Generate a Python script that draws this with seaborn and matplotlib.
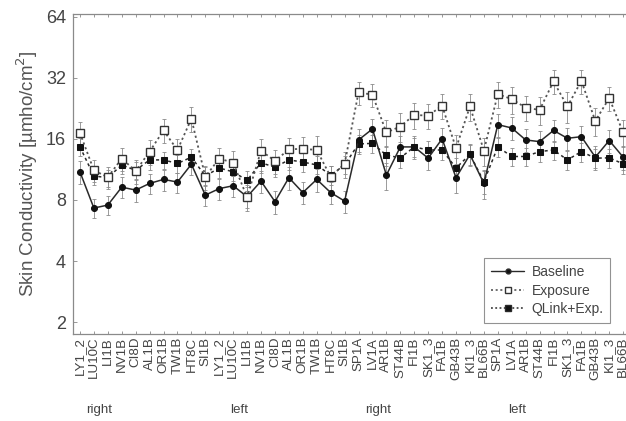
import numpy as np
import pandas as pd
import matplotlib
matplotlib.use("Agg")
import matplotlib.pyplot as plt
import seaborn as sns
from matplotlib.lines import Line2D
from matplotlib.ticker import NullLocator
import matplotlib.transforms as mtransforms

sites_a = ["LY1_2", "LU10C", "LI1B", "NV1B", "CI8D", "AL1B", "OR1B", "TW1B", "HT8C", "SI1B"]
sites_b = ["SP1A", "LV1A", "AR1B", "ST44B", "FI1B", "SK1_3", "FA1B", "GB43B", "KI1_3", "BL66B"]
labels = sites_a + sites_a + sites_b + sites_b
group_names = ["right", "left", "right", "left"]

baseline = [11.0, 7.3, 7.55, 9.25, 8.95, 9.65, 10.1, 9.8, 12.0, 8.45,
            9.1, 9.4, 8.3, 9.9, 7.85, 10.3, 8.7, 10.1, 8.7, 7.9,
            15.8, 17.9, 10.6, 14.6, 14.6, 12.85, 16.0, 10.3, 13.4, 9.65,
            18.8, 18.1, 15.8, 15.5, 17.6, 16.1, 16.4, 13.0, 15.7, 13.0]
exposure = [17.1, 11.2, 10.35, 12.8, 11.1, 13.85, 17.6, 14.1, 20.1, 10.4,
            12.8, 12.2, 8.25, 14.0, 12.45, 14.2, 14.3, 14.1, 10.4, 12.05,
            27.1, 26.4, 17.2, 18.4, 21.0, 20.8, 23.3, 14.4, 23.1, 14.0,
            26.6, 25.1, 22.8, 22.2, 30.7, 23.1, 30.9, 19.6, 25.4, 17.2]
qlink = [14.6, 10.5, 10.3, 11.9, 11.2, 12.6, 12.6, 12.1, 13.0, 10.5,
         11.5, 11.0, 10.0, 12.2, 11.6, 12.6, 12.3, 11.9, 10.6, 11.9,
         15.1, 15.2, 13.3, 12.9, 14.6, 14.1, 14.1, 11.5, 13.4, 9.85,
         14.6, 13.1, 13.1, 13.85, 14.1, 12.6, 13.85, 12.85, 12.9, 12.05]

baseline_err = [1.4, 0.8, 0.8, 1.1, 1.1, 1.1, 1.2, 1.1, 1.4, 1.0,
                1.1, 1.1, 1.0, 1.2, 1.0, 1.3, 1.1, 1.3, 1.1, 1.0,
                2.0, 2.2, 1.6, 1.9, 1.9, 1.6, 2.0, 1.6, 1.7, 1.6,
                2.4, 2.3, 2.0, 2.0, 2.2, 2.0, 2.1, 1.7, 2.0, 1.7]
exposure_err = [2.2, 1.4, 1.3, 1.7, 1.5, 1.9, 2.4, 1.8, 2.8, 1.4,
                1.7, 1.7, 1.2, 1.9, 1.7, 2.0, 2.0, 2.4, 1.4, 1.8,
                3.5, 3.4, 2.6, 3.0, 3.1, 2.9, 3.3, 2.4, 3.6, 2.2,
                3.8, 3.8, 3.2, 3.4, 4.1, 4.0, 4.2, 3.0, 3.4, 2.6]
qlink_err = [1.5, 1.0, 1.0, 1.2, 1.1, 1.3, 1.2, 1.2, 1.3, 1.1,
             1.2, 1.1, 1.1, 1.3, 1.2, 1.3, 1.3, 1.2, 1.1, 1.2,
             1.6, 1.6, 1.5, 1.4, 1.6, 1.5, 1.5, 1.4, 1.5, 1.3,
             1.6, 1.4, 1.4, 1.5, 1.5, 1.4, 1.5, 1.4, 1.4, 1.3]

yticks = [2, 4, 8, 16, 32, 64]

sns.set_style("white")
plt.rcParams["font.family"] = ["Liberation Sans", "DejaVu Sans"]

fig = plt.figure(figsize=(6.26, 4.21), dpi=100)
ax = fig.add_axes([0.1166, 0.2067, 0.89, 0.7603])

x = np.arange(len(labels))
df = pd.DataFrame({
    "x": np.concatenate([x, x, x]),
    "value": baseline + exposure + qlink,
    "series": ["Baseline"] * len(x) + ["Exposure"] * len(x) + ["QLink+Exp."] * len(x),
})

line_col = "#2a2a2a"
err_col = "#8a8a8a"

# error bars
for vals, errs in [(qlink, qlink_err), (baseline, baseline_err), (exposure, exposure_err)]:
    ax.errorbar(x, vals, yerr=errs, fmt="none", ecolor=err_col, elinewidth=0.6,
                capsize=1.6, capthick=0.6, zorder=1)

sns.lineplot(data=df[df.series == "QLink+Exp."], x="x", y="value", ax=ax,
             color=line_col, linestyle=(0, (2, 2)), linewidth=1.1, marker="s",
             markersize=4.8, markerfacecolor="#111", markeredgecolor="#111",
             zorder=3, legend=False)
sns.lineplot(data=df[df.series == "Baseline"], x="x", y="value", ax=ax,
             color=line_col, linestyle="-", linewidth=1.1, marker="o",
             markersize=4.3, markerfacecolor="#111", markeredgecolor="#111",
             zorder=4, legend=False)
sns.lineplot(data=df[df.series == "Exposure"], x="x", y="value", ax=ax,
             color="#555", linestyle=(0, (1.2, 1.6)), linewidth=1.3, marker="s",
             markersize=6.0, markerfacecolor="white", markeredgecolor="#333",
             markeredgewidth=1.0, zorder=5, legend=False)

ax.set_yscale("log", base=2)
ax.set_ylim(1.75, 66)
ax.set_yticks(yticks)
ax.set_yticklabels([str(v) for v in yticks])
ax.yaxis.set_minor_locator(NullLocator())
ax.set_xlim(-0.5, len(labels) - 0.5)
ax.set_xticks(x)
ax.set_xticklabels(labels, rotation=90, fontsize=9.6, color="#444")
ax.set_xlabel("")
ax.set_ylabel("Skin Conductivity [\u00b5mho/cm$^2$]", fontsize=13.5, color="#555", labelpad=4)

ax.tick_params(axis="x", direction="in", top=True, bottom=True, length=2.5,
               width=0.6, color="#888", pad=2)
ax.tick_params(axis="y", direction="in", left=True, length=3, width=0.6,
               color="#888", labelsize=13, labelcolor="#444", pad=5)
for s in ax.spines.values():
    s.set_color("#8a8a8a")
    s.set_linewidth(0.9)

trans = mtransforms.blended_transform_factory(ax.transData, ax.transAxes)
for i, name in enumerate(group_names):
    ax.text(i * 10 + 1.4, -0.237, name, transform=trans, ha="center", va="center",
            fontsize=9.6, color="#444")

handles = [
    Line2D([], [], color=line_col, linestyle="-", linewidth=1.0, marker="o",
           markersize=3.5, markerfacecolor="#111"),
    Line2D([], [], color="#555", linestyle=(0, (1.2, 1.6)), linewidth=1.2, marker="s",
           markersize=4.5, markerfacecolor="white", markeredgecolor="#333"),
    Line2D([], [], color=line_col, linestyle=(0, (1.2, 1.6)), linewidth=1.1, marker="s",
           markersize=4, markerfacecolor="#111"),
]
leg = ax.legend(handles, ["Baseline", "Exposure", "QLink+Exp."], loc="lower right",
                bbox_to_anchor=(0.977, 0.012), fontsize=10, frameon=True,
                fancybox=False, edgecolor="#777", handlelength=2.4,
                borderpad=0.5, labelspacing=0.32, handletextpad=0.5)
leg.get_frame().set_linewidth(0.8)
for t in leg.get_texts():
    t.set_color("#444")

fig.savefig("out.png", dpi=100)
